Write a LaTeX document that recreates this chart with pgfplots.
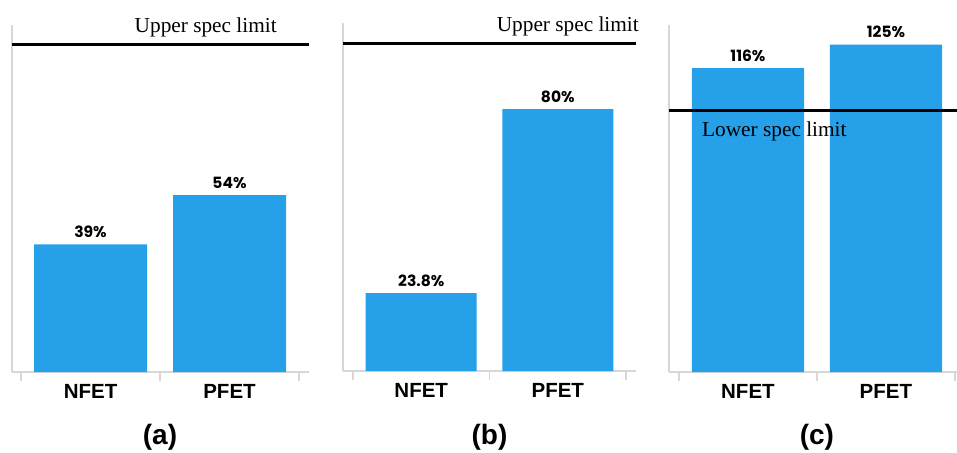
\documentclass[border=0pt]{standalone}
\usepackage{fontspec}
\setmainfont{Liberation Sans}
\newfontfamily\specfont{Liberation Serif}
\newfontfamily\valfont{Poppins}
\usepackage{pgfplots}
\pgfplotsset{compat=1.18}
\definecolor{barblue}{RGB}{37,160,233}
\definecolor{axgray}{RGB}{215,215,215}

\pgfplotsset{
 panel/.style={
  scale only axis, anchor=south west,
  ymin=0, xtick={0,1}, xticklabels={NFET,PFET},
  minor xtick={-0.5,0.5,1.5},
  major tick length=0pt, minor tick length=9pt,
  tick align=outside,
  axis x line*=bottom, axis y line*=left,
  axis line style={draw=axgray, line width=1.2pt, -},
  every minor tick/.style={draw=axgray, line width=1.2pt},
  ytick=\empty,
  xticklabel style={font=\fontsize{20.5}{24}\selectfont\bfseries, anchor=north, inner sep=0pt, yshift=-12pt},
  clip=false,
  /pgf/number format/assume math mode=true,
 },
 bars/.style={
  ybar, fill=barblue, draw=none, bar width=0.813,
  nodes near coords={\pgfmathprintnumber{\pgfplotspointmeta}\%},
  every node near coord/.append style={font=\valfont\fontsize{15.5}{18}\selectfont\bfseries, anchor=base, yshift=7pt, inner sep=0pt, text=black},
 },
 specline/.style={black, line width=3pt, mark=none, sharp plot},
}
\tikzset{
 spectext/.style={font=\specfont\fontsize{21.3}{24}\selectfont, inner sep=0pt},
 capstyle/.style={font=\fontsize{28}{32}\selectfont\bfseries, anchor=base, inner sep=0pt},
}

\begin{document}
\begin{tikzpicture}[x=1pt,y=1pt]
\useasboundingbox (0,0) rectangle (957,452);

% (a)
\begin{axis}[panel, at={(12pt,80pt)}, width=297pt, height=347pt,
  xmin=-0.565, xmax=1.572, ymax=106]
\addplot[bars] coordinates {(0,39) (1,54)};
\addplot[specline] coordinates {(-0.565,100) (1.572,100)};
\node[spectext, anchor=base east, yshift=12pt] at (axis cs:1.341,100) {Upper spec limit};
\node[capstyle, yshift=-72pt] at (axis cs:0.5,0) {(a)};
\end{axis}

% (b)
\begin{axis}[panel, at={(343pt,81pt)}, width=293pt, height=348pt,
  xmin=-0.573, xmax=1.573, ymax=106.3]
\addplot[bars] coordinates {(0,23.8) (1,80)};
\addplot[specline] coordinates {(-0.573,100) (1.573,100)};
\node[spectext, anchor=base east, yshift=12pt] at (axis cs:1.595,100) {Upper spec limit};
\node[capstyle, yshift=-73pt] at (axis cs:0.5,0) {(b)};
\end{axis}

% (c)
\begin{axis}[panel, at={(669pt,80pt)}, width=288pt, height=347pt,
  xmin=-0.572, xmax=1.515, ymax=132.5]
\addplot[bars] coordinates {(0,116) (1,125)};
\addplot[specline] coordinates {(-0.572,100) (1.515,100)};
\node[spectext, anchor=base west, yshift=-26pt] at (axis cs:-0.333,100) {Lower spec limit};
\node[capstyle, yshift=-72pt] at (axis cs:0.5,0) {(c)};
\end{axis}
\end{tikzpicture}
\end{document}
